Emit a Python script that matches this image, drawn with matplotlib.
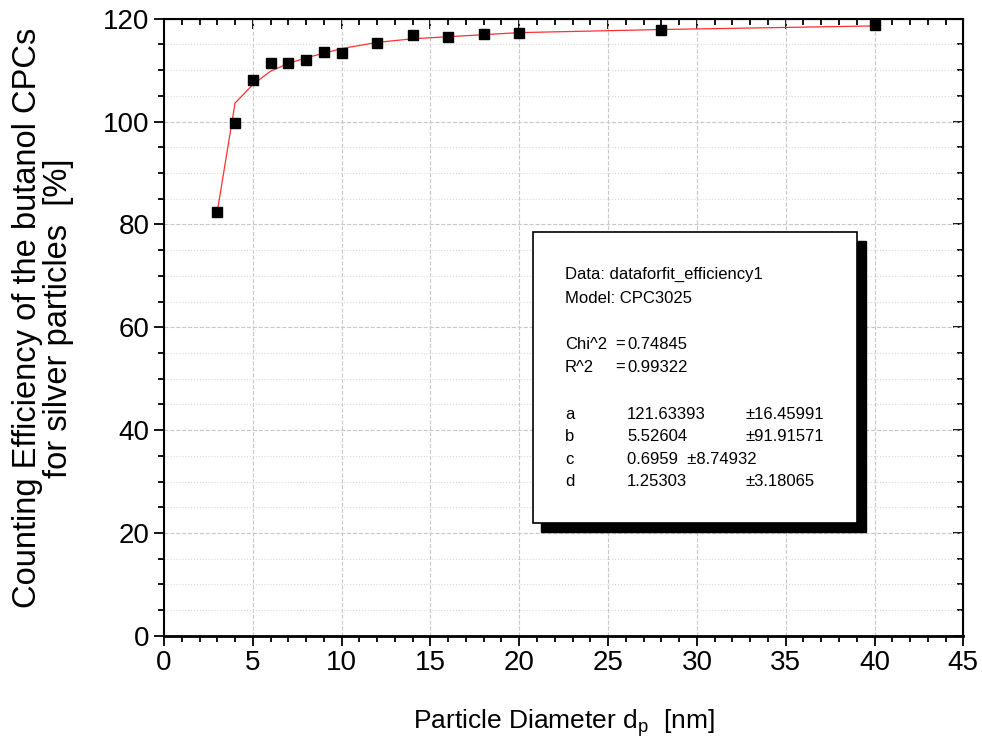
import numpy as np
import matplotlib.pyplot as plt
from matplotlib.ticker import MultipleLocator
from matplotlib.patches import Rectangle

plt.rcParams['font.family'] = ['Liberation Sans', 'DejaVu Sans']

# measured efficiency
diam = [3, 4, 5, 6, 7, 8, 9, 10, 12, 14, 16, 18, 20, 28, 40]
eff = [82.5, 99.7, 108.1, 111.3, 111.3, 111.9, 113.5, 113.3, 115.3, 116.9, 116.4, 117.0, 117.2, 117.8, 118.7]

# fitted curve
fit_x = [3, 4, 5, 6, 7, 8, 9, 10, 12, 14, 16, 18, 20, 28, 40]
fit_y = [82.5, 103.6, 107.2, 109.8, 111.3, 112.4, 113.3, 114.2, 115.4, 116.1, 116.5, 116.9, 117.3, 117.9, 118.6]

# fit report
header = ['Data: dataforfit_efficiency1', 'Model: CPC3025']
stats = [('Chi^2', '=', '0.74845'), ('R^2', '=', '0.99322')]
params = [('a', '121.63393', '\u00b116.45991'),
          ('b', '5.52604', '\u00b191.91571'),
          ('c', '0.6959  \u00b18.74932', ''),
          ('d', '1.25303', '\u00b13.18065')]

fig = plt.figure(figsize=(9.82, 7.49), dpi=100)
ax = fig.add_axes([0.167, 0.151, 0.814, 0.824])

ax.plot(fit_x, fit_y, color='#ff3030', lw=0.9, zorder=3)
ax.plot(diam, eff, 's', color='black', ms=7.5, zorder=4)

ax.set_xlim(0, 45)
ax.set_ylim(0, 120)
ax.xaxis.set_major_locator(MultipleLocator(5))
ax.xaxis.set_minor_locator(MultipleLocator(1))
ax.yaxis.set_major_locator(MultipleLocator(20))
ax.yaxis.set_minor_locator(MultipleLocator(5))

ax.grid(which='major', color='#c8c8c8', ls='--', lw=0.8)
ax.grid(which='minor', axis='y', color='#d8d8d8', ls=':', lw=0.8)

ax.tick_params(which='both', direction='out', labelsize=20, width=1.3)
ax.tick_params(which='major', length=7)
ax.tick_params(which='minor', length=4)

# inward ticks on top and right
top = ax.secondary_xaxis('top')
top.xaxis.set_major_locator(MultipleLocator(5))
top.xaxis.set_minor_locator(MultipleLocator(1))
top.tick_params(which='both', direction='in', labeltop=False, width=1.3)
top.tick_params(which='major', length=7)
top.tick_params(which='minor', length=4)
right = ax.secondary_yaxis('right')
right.yaxis.set_major_locator(MultipleLocator(20))
right.yaxis.set_minor_locator(MultipleLocator(5))
right.tick_params(which='both', direction='in', labelright=False, width=1.3)
right.tick_params(which='major', length=7)
right.tick_params(which='minor', length=4)

for s in ax.spines.values():
    s.set_linewidth(1.5)
ax.spines['bottom'].set_linewidth(2)

ax.set_xlabel('Particle Diameter d$_\\mathregular{p}$  [nm]', fontsize=19, labelpad=22)
ax.set_ylabel('Counting Efficiency of the butanol CPCs\nfor silver particles  [%]',
              fontsize=23.5, linespacing=1.0)
ax.yaxis.set_label_coords(-0.113, 0.515)

# fit result box with shadow
ax.add_patch(Rectangle((21.25, 20.25), 18.28, 56.5, facecolor='black', edgecolor='black', zorder=5))
ax.add_patch(Rectangle((20.75, 22.0), 18.28, 56.5, facecolor='white', edgecolor='black', lw=1.2, zorder=6))

fs = 12
ax.text(22.58, 70.2, header[0], fontsize=fs, va='center', zorder=7)
ax.text(22.58, 65.6, header[1], fontsize=fs, va='center', zorder=7)
for (name, eq, val), y in zip(stats, [56.6, 52.2]):
    ax.text(22.58, y, name, fontsize=fs, va='center', zorder=7)
    ax.text(25.39, y, eq, fontsize=fs, va='center', zorder=7)
    ax.text(26.07, y, val, fontsize=fs, va='center', zorder=7)
for (name, val, err), y in zip(params, [43.0, 38.8, 34.3, 30.0]):
    ax.text(22.58, y, name, fontsize=fs, va='center', zorder=7)
    ax.text(26.07, y, val, fontsize=fs, va='center', zorder=7)
    ax.text(32.71, y, err, fontsize=fs, va='center', zorder=7)

fig.savefig('out.png', dpi=100)
